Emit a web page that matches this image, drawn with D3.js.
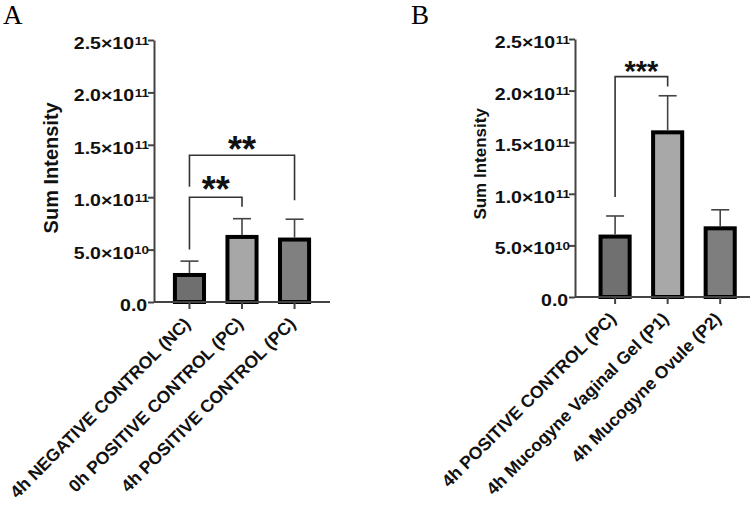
<!DOCTYPE html>
<html>
<head>
<meta charset="utf-8">
<script src="https://cdn.jsdelivr.net/npm/d3@7"></script>
<style>
  body { margin: 0; background: #fff; }
  text { font-family: Arial, "Liberation Sans", sans-serif; }
</style>
</head>
<body>
<script>
// panel A data
var catsA = ['4h NEGATIVE CONTROL (NC)', '0h POSITIVE CONTROL (PC)', '4h POSITIVE CONTROL (PC)']
var meanA = [2.77e10, 6.4e10, 6.15e10]
var errA = [3.9e10, 7.95e10, 7.9e10]
var fillA = ['#6f6f6f', '#a7a7a7', '#808080']

// panel B data
var catsB = ['4h POSITIVE CONTROL (PC)', '4h Mucogyne Vaginal Gel (P1)', '4h Mucogyne Ovule (P2)']
var meanB = [6.05e10, 1.615e11, 6.85e10]
var errB = [7.85e10, 1.95e11, 8.45e10]
var fillB = ['#707070', '#a8a8a8', '#7e7e7e']

// y ticks, shared
var yTicks = [0, 5e10, 1e11, 1.5e11, 2e11, 2.5e11]
var tickBase = ['0.0', '5.0×10', '1.0×10', '1.5×10', '2.0×10', '2.5×10']
var tickExp = ['', '10', '11', '11', '11', '11']

// significance brackets: [from, to], bar level, leg ends, label
var sigA = [
  { pair: [0, 1], level: 1.0e11, legs: [0.5e11, 0.91e11], stars: '**', starY: 1.145e11 },
  { pair: [0, 2], level: 1.4e11, legs: [1.1e11, 0.97e11], stars: '**', starY: 1.53e11 }
]
var sigB = [
  { pair: [0, 1], level: 2.135e11, legs: [0.97e11, 2.04e11], stars: '***', starY: 2.25e11 }
]

var W = 754, H = 511
var svg = d3.select('body').append('svg')
  .attr('width', W)
  .attr('height', H)

function drawPanel(p) {
  var y = d3.scaleLinear().domain([0, 2.5e11]).range([p.bottom, p.top])
  var x = d3.scaleBand().domain(p.cats).range([p.left, p.right])
    .paddingInner(0.37).paddingOuter(p.padOuter).align(p.align)

  var g = svg.append('g')

  // panel letter
  svg.append('text')
    .attr('x', p.letterX).attr('y', 24)
    .style('font-family', '"Liberation Serif", "Times New Roman", serif')
    .style('font-size', '27px')
    .text(p.letter)

  // y axis
  var yAxis = d3.axisLeft(y).tickValues(yTicks).tickSize(6).tickSizeOuter(0).tickFormat('')
  var ya = g.append('g').attr('transform', 'translate(' + p.left + ',0)').call(yAxis)
  ya.selectAll('path, line').attr('stroke', '#444').attr('stroke-width', 2)

  // tick labels (the figure's type is a little wide, so stretch it)
  var tl = g.append('g').selectAll('g').data(yTicks).enter().append('g')
    .attr('transform', function(d) { return 'translate(' + (p.left - 5) + ',' + y(d) + ') scale(1.22,1)' })
  tl.append('text')
    .attr('x', function(d, i) { return tickExp[i] ? -12.3 : -1.5 })
    .attr('y', 9)
    .attr('text-anchor', 'end')
    .style('font-size', '16px')
    .style('font-weight', 'bold')
    .style('fill', '#111')
    .text(function(d, i) { return tickBase[i] })
  tl.append('text')
    .attr('x', 0)
    .attr('y', 4.5)
    .attr('text-anchor', 'end')
    .style('font-size', '11px')
    .style('font-weight', 'bold')
    .style('fill', '#111')
    .text(function(d, i) { return tickExp[i] })

  // y title
  g.append('text')
    .attr('transform', 'translate(' + p.titleX + ',' + y(p.titleAt) + ') rotate(-90)')
    .attr('text-anchor', 'middle')
    .style('font-size', p.titleSize + 'px')
    .style('font-weight', 'bold')
    .style('fill', '#111')
    .text('Sum Intensity')

  // bars
  var bw = x.bandwidth()
  g.append('g').selectAll('rect').data(p.mean).enter().append('rect')
    .attr('x', function(d, i) { return x(p.cats[i]) + 2 })
    .attr('y', function(d) { return y(d) + 2 })
    .attr('width', bw - 4)
    .attr('height', function(d) { return y(0) - y(d) - 2 })
    .attr('fill', function(d, i) { return p.fill[i] })
    .attr('stroke', '#000')
    .attr('stroke-width', 4)

  // error bars (upper only)
  var eb = g.append('g').selectAll('g').data(p.err).enter().append('g')
  eb.append('line')
    .attr('x1', function(d, i) { return x(p.cats[i]) + bw / 2 })
    .attr('x2', function(d, i) { return x(p.cats[i]) + bw / 2 })
    .attr('y1', function(d, i) { return y(p.mean[i]) })
    .attr('y2', function(d) { return y(d) })
    .attr('stroke', '#444').attr('stroke-width', 1.6)
  eb.append('line')
    .attr('x1', function(d, i) { return x(p.cats[i]) + bw / 2 - 9 })
    .attr('x2', function(d, i) { return x(p.cats[i]) + bw / 2 + 9 })
    .attr('y1', function(d) { return y(d) })
    .attr('y2', function(d) { return y(d) })
    .attr('stroke', '#444').attr('stroke-width', 1.6)

  // x axis
  var xAxis = d3.axisBottom(x).tickSize(7).tickSizeOuter(0).tickFormat('')
  var xa = g.append('g').attr('transform', 'translate(0,' + p.bottom + ')').call(xAxis)
  xa.select('.domain').attr('d', 'M' + p.left + ',0H' + p.right)
  xa.selectAll('path, line').attr('stroke', '#444').attr('stroke-width', 2)

  g.append('g').selectAll('text').data(p.cats).enter().append('text')
    .attr('transform', function(d) {
      return 'translate(' + (x(d) + bw / 2 + 2) + ',' + (p.bottom + 23) + ') rotate(-45)'
    })
    .attr('text-anchor', 'end')
    .style('font-size', '17.5px')
    .style('font-weight', 'bold')
    .style('fill', '#111')
    .text(function(d) { return d })

  // significance brackets
  p.sig.forEach(function(s) {
    var xa0 = x(p.cats[s.pair[0]]) + bw / 2
    var xa1 = x(p.cats[s.pair[1]]) + bw / 2
    g.append('path')
      .attr('d', 'M' + xa0 + ',' + y(s.legs[0]) + 'V' + y(s.level) + 'H' + xa1 + 'V' + y(s.legs[1]))
      .attr('fill', 'none')
      .attr('stroke', '#333')
      .attr('stroke-width', 1.6)
    g.append('text')
      .attr('x', (xa0 + xa1) / 2)
      .attr('y', y(s.starY))
      .attr('dy', '0.56em')
      .attr('text-anchor', 'middle')
      .style('font-size', p.starSize + 'px')
      .style('font-weight', 'bold')
      .style('fill', '#111')
      .text(s.stars)
  })
}

drawPanel({
  letter: 'A', letterX: 3,
  cats: catsA, mean: meanA, err: errA, fill: fillA, sig: sigA,
  left: 154, right: 330, top: 40, bottom: 302,
  padOuter: 0.36, align: 0.5,
  titleX: 58, titleAt: 1.28e11, titleSize: 20, starSize: 36
})

drawPanel({
  letter: 'B', letterX: 411,
  cats: catsB, mean: meanB, err: errB, fill: fillB, sig: sigB,
  left: 575, right: 750, top: 39, bottom: 297,
  padOuter: 0.35, align: 0.64,
  titleX: 486, titleAt: 1.29e11, titleSize: 17, starSize: 29
})
</script>
</body>
</html>
